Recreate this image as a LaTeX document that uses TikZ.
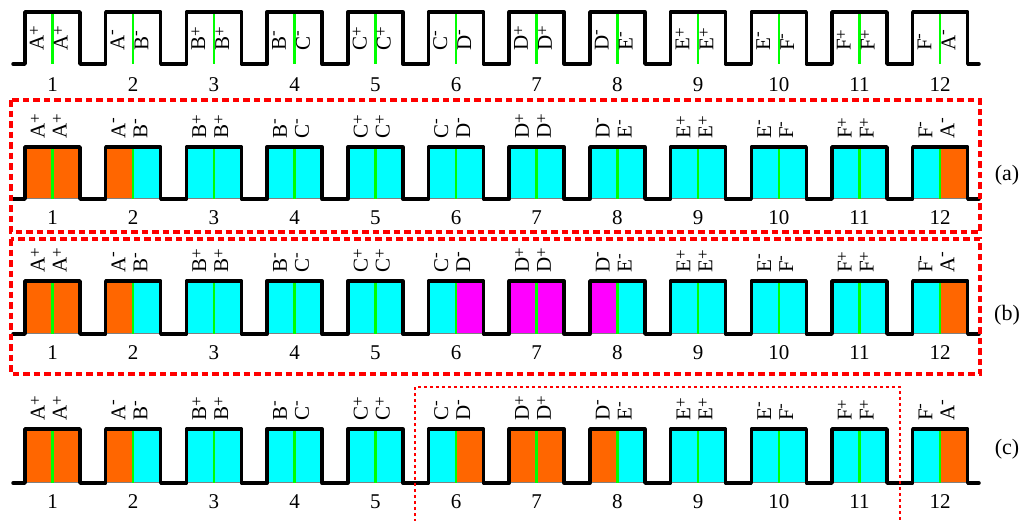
\documentclass[tikz,border=0pt]{standalone}
\usepackage{fontspec}
\setmainfont{Liberation Serif}
\definecolor{myorange}{HTML}{FF6600}
\definecolor{mycyan}{HTML}{00FFFF}
\definecolor{mymag}{HTML}{FF00FF}
\definecolor{mygreen}{HTML}{00FF00}
\definecolor{myred}{HTML}{FF0000}
\newcommand\sgnp{\raisebox{0.42ex}{\fontsize{17}{17}\selectfont +}}
\newcommand\sgnm{\raisebox{0.8ex}{\fontsize{17}{17}\selectfont -}}
\tikzset{
  wave/.style={line width=3.5pt, line join=round, line cap=round, black},
  gline/.style={mygreen, line width=2.5pt},
  baseg/.style={gray, line width=0.8pt},
  lab/.style={font=\fontsize{21}{21}\selectfont, rotate=90, anchor=west, inner sep=0pt, text height=1.4ex, text depth=0pt},
  num/.style={font=\fontsize{21}{21}\selectfont, inner sep=0pt},
  tag/.style={font=\fontsize{22}{22}\selectfont, inner sep=0pt},
  dbox/.style={myred, line width=3.5pt, dash pattern=on 6.5pt off 4pt},
  dotbox/.style={myred, line width=2.2pt, dash pattern=on 3pt off 3pt}
}
% #1 id, #2 top, #3 base, #4 label start y, #5 number y, #6 label offset
\newcommand\wrow[6]{%
  \foreach \k in {1,...,12}{
    \pgfmathsetmacro\c{52.5+80.7*(\k-1)}
    \draw[gline] (\c,#2) -- (\c,#3);
  }
  \draw[wave] (13,#3) \foreach \k in {1,...,12}{ -- ({25+80.7*(\k-1)},#3) -- ({25+80.7*(\k-1)},#2) -- ({80+80.7*(\k-1)},#2) -- ({80+80.7*(\k-1)},#3)} -- (979,#3);
  \foreach \k/\La/\Sa/\Lb/\Sb in {1/A/p/A/p,2/A/m/B/m,3/B/p/B/p,4/B/m/C/m,5/C/p/C/p,6/C/m/D/m,7/D/p/D/p,8/D/m/E/m,9/E/p/E/p,10/E/m/F/m,11/F/p/F/p,12/F/m/A/m}{
    \pgfmathsetmacro\c{52.5+80.7*(\k-1)}
    \node[lab] (#1-\k-l) at (\c-#6,#4) {\La\csname sgn\Sa\endcsname};
    \node[lab] (#1-\k-r) at (\c+#6,#4) {\Lb\csname sgn\Sb\endcsname};
    \node[num] (#1-\k-n) at (\c,#5) {\k};
  }
}
% #1 top, #2 base, #3 list k/left/right
\newcommand\wfill[3]{%
  \foreach \k/\ca/\cb in {#3}{
    \pgfmathsetmacro\c{52.5+80.7*(\k-1)}
    \fill[\ca] (\c-27.5,#1) rectangle (\c,#2);
    \fill[\cb] (\c,#1) rectangle (\c+27.5,#2);
    \draw[baseg] (\c-27.5,#2-1) -- (\c+27.5,#2-1);
  }
}
\begin{document}
\begin{tikzpicture}[x=1pt,y=-1pt]
\useasboundingbox (0,0) rectangle (1025,520);
% top row
\wrow{t}{12}{64}{51}{85}{12}
% row a
\wfill{147}{199}{1/myorange/myorange,2/myorange/mycyan,3/mycyan/mycyan,4/mycyan/mycyan,5/mycyan/mycyan,6/mycyan/mycyan,7/mycyan/mycyan,8/mycyan/mycyan,9/mycyan/mycyan,10/mycyan/mycyan,11/mycyan/mycyan,12/mycyan/myorange}
\wrow{a}{147}{199}{139}{218}{11}
% row b
\wfill{281}{334}{1/myorange/myorange,2/myorange/mycyan,3/mycyan/mycyan,4/mycyan/mycyan,5/mycyan/mycyan,6/mycyan/mymag,7/mymag/mymag,8/mymag/mycyan,9/mycyan/mycyan,10/mycyan/mycyan,11/mycyan/mycyan,12/mycyan/myorange}
\wrow{b}{281}{334}{273}{353}{11}
% row c
\wfill{429}{483}{1/myorange/myorange,2/myorange/mycyan,3/mycyan/mycyan,4/mycyan/mycyan,5/mycyan/mycyan,6/mycyan/myorange,7/myorange/myorange,8/myorange/mycyan,9/mycyan/mycyan,10/mycyan/mycyan,11/mycyan/mycyan,12/mycyan/myorange}
\wrow{c}{429}{483}{421}{502}{11}
% boxes
\draw[dbox] (11,100) rectangle (980,232);
\draw[dbox] (11,239) rectangle (980,374);
\draw[dotbox] (415,522) -- (415,387) -- (900,387) -- (900,522);
% tags
\node[tag] (taga) at (1007,175) {(a)};
\node[tag] (tagb) at (1007,315) {(b)};
\node[tag] (tagc) at (1007,449) {(c)};
\end{tikzpicture}
\end{document}
